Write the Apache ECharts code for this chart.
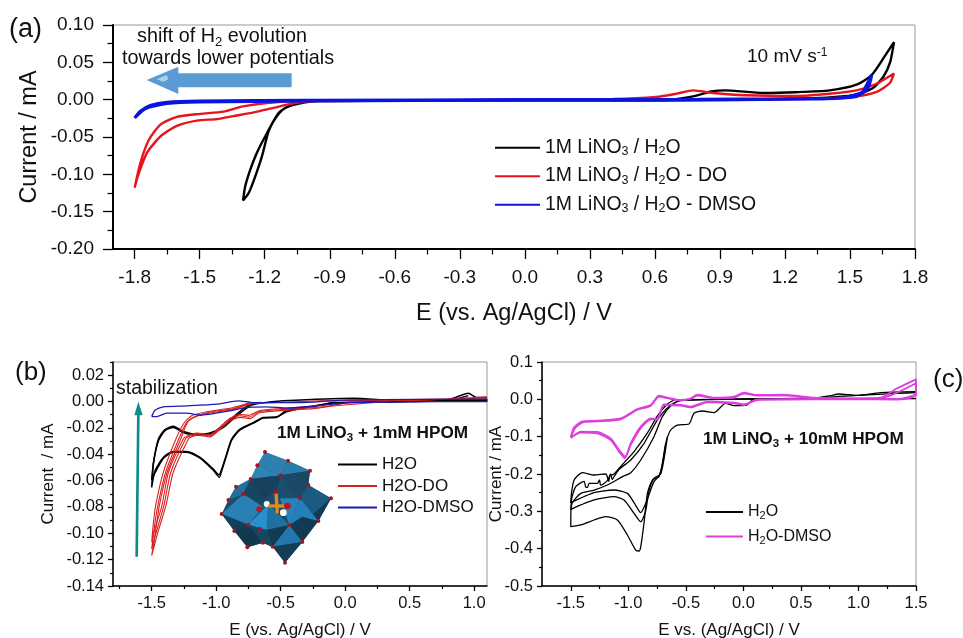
<!DOCTYPE html>
<html><head><meta charset="utf-8">
<style>html,body{margin:0;padding:0;background:#fff}#c{width:963px;height:638px}</style>
<script src="https://cdn.jsdelivr.net/npm/echarts@6/dist/echarts.min.js"></script>
</head><body><div id="c"></div>
<script>
// ---------- tick values ----------
const xMajorA=[-1.8,-1.5,-1.2,-0.9,-0.6,-0.3,0,0.3,0.6,0.9,1.2,1.5,1.8];
const xMinorA=[-1.65,-1.35,-1.05,-0.75,-0.45,-0.15,0.15,0.45,0.75,1.05,1.35,1.65];
const yMajorA=[-0.2,-0.15,-0.1,-0.05,0,0.05,0.1];
const yMinorA=[-0.175,-0.125,-0.075,-0.025,0.025,0.075];
const xMajorB=[-1.5,-1,-0.5,0,0.5,1];
const xMinorB=[-1.75,-1.25,-0.75,-0.25,0.25,0.75];
const yMajorB=[-0.14,-0.12,-0.1,-0.08,-0.06,-0.04,-0.02,0,0.02];
const yMinorB=[-0.13,-0.11,-0.09,-0.07,-0.05,-0.03,-0.01,0.01,0.03];
const xMajorC=[-1.5,-1,-0.5,0,0.5,1,1.5];
const xMinorC=[-1.25,-0.75,-0.25,0.25,0.75,1.25];
const yMajorC=[-0.5,-0.4,-0.3,-0.2,-0.1,0,0.1];
const yMinorC=[-0.45,-0.35,-0.25,-0.15,-0.05,0.05];

// ---------- panel (a) : potential V, current mA ----------
const aBlack=[[-0.96,-0.002],[-1.03,-0.0045],[-1.082,-0.008],[-1.136,-0.018],[-1.19,-0.045],[-1.236,-0.071],[-1.267,-0.094],[-1.29,-0.116],[-1.3,-0.135],[-1.274,-0.125],[-1.244,-0.103],[-1.213,-0.076],[-1.182,-0.042],[-1.151,-0.025],[-1.113,-0.0125],[-1.067,-0.007],[-0.97,-0.002],[-0.4,-0.001],[0.2,-0.001],[0.63,-0.001],[0.776,0.0045],[0.86,0.011],[0.922,0.0125],[1.1,0.009],[1.25,0.01],[1.406,0.0125],[1.53,0.02],[1.6,0.033],[1.66,0.058],[1.703,0.077],[1.686,0.051],[1.655,0.031],[1.606,0.0156],[1.53,0.0067],[1.33,0.002],[0.87,0],[0.2,-0.001],[-0.4,-0.001],[-0.96,-0.002]];
const aRed=[[-1.8,-0.118],[-1.774,-0.085],[-1.735,-0.054],[-1.68,-0.033],[-1.605,-0.023],[-1.497,-0.019],[-1.39,-0.016],[-1.3,-0.009],[-1.19,-0.0045],[-1.036,-0.002],[-0.5,-0.001],[0.41,0.001],[0.607,0.0036],[0.7,0.008],[0.776,0.0125],[0.868,0.009],[1.02,0.006],[1.25,0.005],[1.406,0.008],[1.53,0.0125],[1.62,0.021],[1.703,0.035],[1.683,0.022],[1.62,0.01],[1.53,0.0045],[1.33,0.001],[0.71,-0.001],[0,-0.001],[-0.96,-0.002],[-1.067,-0.005],[-1.16,-0.011],[-1.25,-0.017],[-1.344,-0.022],[-1.42,-0.026],[-1.513,-0.028],[-1.605,-0.035],[-1.68,-0.049],[-1.743,-0.071],[-1.786,-0.103],[-1.8,-0.118]];
const aBlue=[[-1.8,-0.0245],[-1.774,-0.0156],[-1.728,-0.008],[-1.65,-0.0036],[-1.5,-0.002],[-1,-0.001],[0,0],[0.8,0.0005],[1.2,0.001],[1.45,0.002],[1.53,0.007],[1.56,0.011],[1.6,0.033],[1.583,0.0156],[1.53,0.0045],[1.33,0.001],[0.6,-0.0005],[-0.5,-0.001],[-1.5,-0.003],[-1.65,-0.005],[-1.75,-0.012],[-1.8,-0.0245]];

// ---------- panel (b) ----------
const bBlack1=[[1.1,0.0005],[0.81,0.0005],[0.425,0],[-0.09,-0.0008],[-0.22,-0.0033],[-0.45,-0.0066],[-0.53,-0.0116],[-0.634,-0.0121],[-0.71,-0.0159],[-0.815,-0.021],[-0.88,-0.0285],[-0.919,-0.0399],[-0.957,-0.0513],[-0.978,-0.0556],[-1.022,-0.0513],[-1.125,-0.0424],[-1.229,-0.0379],[-1.332,-0.0379],[-1.41,-0.0424],[-1.474,-0.0525],[-1.5,-0.0652],[-1.487,-0.0475],[-1.448,-0.0298],[-1.397,-0.0222],[-1.332,-0.0197],[-1.255,-0.0235],[-1.151,-0.0255],[-1.048,-0.0247],[-0.944,-0.0197],[-0.841,-0.0109],[-0.738,-0.0033],[-0.66,-0.0013],[-0.48,0.0005],[0.063,0.0025],[0.425,0.0005],[0.813,0.0018],[0.955,0.0063],[1.019,0.003],[1.1,0.003]];
const bBlack2=[[0.955,0.0045],[0.813,0.001],[0.425,-0.0002],[-0.09,-0.0012],[-0.45,-0.0075],[-0.53,-0.012],[-0.634,-0.0126],[-0.71,-0.0163],[-0.815,-0.0216],[-0.88,-0.0293],[-0.919,-0.0407],[-0.957,-0.0525],[-0.975,-0.0575],[-1.022,-0.0522],[-1.125,-0.043],[-1.229,-0.0384],[-1.332,-0.0385],[-1.41,-0.0432],[-1.474,-0.054],[-1.5,-0.0595],[-1.485,-0.0455],[-1.448,-0.0285],[-1.397,-0.0212],[-1.332,-0.0187],[-1.255,-0.0228],[-1.151,-0.0248],[-1.048,-0.0238],[-0.944,-0.0186],[-0.841,-0.0095],[-0.738,-0.0022],[-0.66,-0.0008]];
const bRed1=[[1.1,0.0035],[0.6,0.001],[0.1,0.0003],[-0.208,-0.005],[-0.45,-0.0066],[-0.66,-0.0083],[-0.738,-0.013],[-0.815,-0.012],[-0.893,-0.0146],[-0.97,-0.021],[-1.048,-0.0268],[-1.151,-0.0255],[-1.2,-0.0272],[-1.216,-0.0284],[-1.333,-0.0537],[-1.389,-0.0788],[-1.45,-0.0985],[-1.5,-0.117],[-1.47,-0.0985],[-1.44,-0.0788],[-1.38,-0.0537],[-1.275,-0.0284],[-1.22,-0.0155],[-1.16,-0.0115],[-1.06,-0.0088],[-0.854,-0.0058],[-0.738,-0.0018],[-0.609,-0.001],[-0.2,0.0005],[0.2,0.001],[1.1,0.0025]];
const bRed2=[[0.35,0.0003],[-0.19,-0.0042],[-0.45,-0.0058],[-0.66,-0.0076],[-0.745,-0.0118],[-0.815,-0.0108],[-0.893,-0.0135],[-0.97,-0.02],[-1.048,-0.026],[-1.151,-0.0248],[-1.215,-0.0268],[-1.238,-0.0284],[-1.352,-0.0537],[-1.405,-0.0788],[-1.46,-0.0975],[-1.5,-0.112],[-1.478,-0.0945],[-1.452,-0.0788],[-1.392,-0.0537],[-1.29,-0.0284],[-1.23,-0.016],[-1.172,-0.0118],[-1.06,-0.0083],[-0.854,-0.0052],[-0.738,-0.001]];
const bRed3=[[-0.17,-0.003],[-0.45,-0.005],[-0.66,-0.0068],[-0.75,-0.0105],[-0.815,-0.0098],[-0.893,-0.0127],[-0.97,-0.0192],[-1.048,-0.0252],[-1.151,-0.024],[-1.225,-0.0262],[-1.255,-0.0284],[-1.37,-0.0537],[-1.42,-0.0788],[-1.47,-0.095],[-1.5,-0.1066],[-1.487,-0.0925],[-1.469,-0.0788],[-1.41,-0.0537],[-1.312,-0.0284],[-1.25,-0.0165],[-1.19,-0.0108],[-1.074,-0.0078],[-0.867,-0.0045],[-0.75,-0.0012]];
const bBlue=[[-1.5,-0.0114],[-1.474,-0.0066],[-1.41,-0.004],[-1.229,-0.0033],[-0.996,-0.002],[-0.828,0.0005],[-0.712,-0.0008],[-0.35,-0.0008],[0.037,0.0013],[1.1,0.0018],[1.1,0],[0.425,-0.0002],[0.037,-0.0008],[-0.221,-0.0033],[-0.453,-0.005],[-0.609,-0.004],[-0.764,-0.0045],[-0.893,-0.0071],[-1.125,-0.0104],[-1.229,-0.0088],[-1.384,-0.0088],[-1.461,-0.0114],[-1.5,-0.0114]];

// ---------- panel (c) ----------
const cBlack1=[[1.5,0.0018],[1,0.0009],[0.5,0],[0.09,0],[0.03,-0.0152],[-0.08,-0.017],[-0.155,-0.0107],[-0.256,-0.0357],[-0.357,-0.0313],[-0.429,-0.0375],[-0.473,-0.0661],[-0.574,-0.0688],[-0.632,-0.0821],[-0.675,-0.1179],[-0.704,-0.1714],[-0.733,-0.2071],[-0.791,-0.2161],[-0.834,-0.2518],[-0.863,-0.33],[-0.892,-0.395],[-0.907,-0.4063],[-0.936,-0.4036],[-1.008,-0.3634],[-1.095,-0.3232],[-1.196,-0.3143],[-1.297,-0.3232],[-1.413,-0.3366],[-1.5,-0.3411],[-1.494,-0.2696],[-1.457,-0.2339],[-1.384,-0.2196],[-1.37,-0.2357],[-1.355,-0.2357],[-1.34,-0.225],[-1.269,-0.225],[-1.25,-0.216],[-1.24,-0.23],[-1.182,-0.2179],[-1.153,-0.2],[-1.14,-0.215],[-1.124,-0.2071],[-1.08,-0.1875],[-0.979,-0.1625],[-0.863,-0.1179],[-0.748,-0.0554],[-0.632,-0.0152],[-0.545,-0.0036],[0.034,0.0009],[0.612,0.0027],[0.757,0.0098],[0.829,0.0143],[0.988,0.0107],[1.191,0.0179],[1.5,0.0205]];
const cBlack2=[[-0.66,-0.1],[-0.69,-0.16],[-0.719,-0.2],[-0.777,-0.2116],[-0.82,-0.245],[-0.85,-0.3],[-0.892,-0.3277],[-0.95,-0.3054],[-1.037,-0.2696],[-1.124,-0.2607],[-1.297,-0.2696],[-1.5,-0.2946],[-1.486,-0.2768],[-1.413,-0.2518],[-1.297,-0.2429],[-1.182,-0.2295],[-1.05,-0.2071],[-0.979,-0.1964],[-0.892,-0.1625],[-0.777,-0.1],[-0.704,-0.0464],[-0.632,-0.0179],[-0.545,-0.002],[0,0.0009],[0.6,0.004],[1,0.0107],[1.336,0.0161],[1.5,0.0179]];
const cBlack3=[[-0.675,-0.12],[-0.704,-0.175],[-0.733,-0.205],[-0.777,-0.2205],[-0.82,-0.255],[-0.85,-0.28],[-0.892,-0.3036],[-0.95,-0.2768],[-1.008,-0.2518],[-1.124,-0.2429],[-1.297,-0.25],[-1.5,-0.2768],[-1.494,-0.2518],[-1.471,-0.2161],[-1.399,-0.1964],[-1.297,-0.2027],[-1.196,-0.2],[-1.17,-0.22],[-1.16,-0.205],[-1.124,-0.2],[-1.066,-0.1795],[-0.95,-0.14],[-0.834,-0.09],[-0.748,-0.045],[-0.661,-0.0125],[-0.6,-0.0018]];
const cMagenta1=[[-1.5,-0.1018],[-1.471,-0.075],[-1.399,-0.0589],[-1.269,-0.0571],[-1.066,-0.0509],[-0.921,-0.0259],[-0.806,-0.0152],[-0.733,0.0098],[-0.661,0.0045],[-0.545,-0.0018],[-0.458,0.0027],[-0.4,0.0125],[-0.256,0.0045],[-0.082,0.0071],[0.005,0.0179],[0.12,0.0116],[0.352,0.0125],[0.612,0.0045],[0.902,0.0027],[1.191,0.0045],[1.336,0.0295],[1.5,0.0536],[1.5,0.0161],[1.336,0.0009],[0.902,0.0018],[0.265,0],[0.12,0],[0.005,-0.0152],[-0.082,-0.0107],[-0.314,-0.008],[-0.458,-0.0214],[-0.545,-0.0170],[-0.69,-0.0152],[-0.748,-0.055],[-0.806,-0.0509],[-0.892,-0.0732],[-0.979,-0.1179],[-1.031,-0.158],[-1.08,-0.1402],[-1.153,-0.1089],[-1.269,-0.0911],[-1.413,-0.0893],[-1.5,-0.1018]];
const cMagenta2=[[-1.5,-0.1036],[-1.465,-0.078],[-1.395,-0.0615],[-1.269,-0.059],[-1.066,-0.0535],[-0.921,-0.028],[-0.806,-0.0175],[-0.733,0.0075],[-0.661,0.003],[-0.545,-0.003],[-0.458,0.0009],[-0.4,0.0098],[-0.256,0.003],[-0.082,0.0045],[0.005,0.0152],[0.12,0.0098],[0.352,0.0107],[0.612,0.0036],[0.902,0.0018],[1.191,0.0027],[1.336,0.018],[1.5,0.0429],[1.5,0.0107],[1.336,-0.0009],[0.902,0.0009],[0.265,-0.0009],[0.12,-0.0018],[0.005,-0.0134],[-0.082,-0.0089],[-0.314,-0.0063],[-0.458,-0.0196],[-0.545,-0.0152],[-0.69,-0.0134],[-0.748,-0.0525],[-0.806,-0.0535],[-0.892,-0.077],[-0.979,-0.122],[-1.025,-0.1535],[-1.08,-0.136],[-1.153,-0.1045],[-1.269,-0.0875],[-1.413,-0.0865],[-1.5,-0.1036]];

// ---------- labels ----------
const legendA=['1M LiNO3 / H2O','1M LiNO3 / H2O - DO','1M LiNO3 / H2O - DMSO'];
const legendB=['H2O','H2O-DO','H2O-DMSO'];
const legendC=['H\u2082O','H\u2082O-DMSO'];

const FONT='"Liberation Sans",Arial,sans-serif';
const chart=echarts.init(document.getElementById('c'),null,{renderer:'canvas'});
const grids=[{left:113,top:25,width:802,height:224},{left:113,top:362,width:374,height:224},{left:542,top:362,width:374,height:224}];
const ranges=[{x:[-1.9,1.8],y:[-0.2,0.1]},{x:[-1.8,1.1],y:[-0.14,0.03]},{x:[-1.75,1.5],y:[-0.5,0.1]}];
const xMaj=[xMajorA,xMajorB,xMajorC],xMin=[xMinorA,xMinorB,xMinorC],yMaj=[yMajorA,yMajorB,yMajorC],yMin=[yMinorA,yMinorB,yMinorC];
const yDec=[2,2,1];
const fs=[19,16.5,16.5],nameFs=[23.5,17,17];
const xNames=['E (vs. Ag/AgCl) / V','E (vs. Ag/AgCl) / V','E vs. (Ag/AgCl) / V'];
const yNames=['Current / mA','Current  / mA','Current / mA'];
const xNameGap=[53,36,36],yNameGap=[71.5,56.5,37.5];
const lw=[2,1.5,1.5];
const tickLen=[[10,5.5],[5,3],[5,3]];
const xLabelMargin=[19,9,9],yLabelMargin=[19,9,9];
const xAxis=[],yAxis=[];
grids.forEach((g,i)=>{
  const common={gridIndex:i,type:'value',splitLine:{show:false}};
  xAxis.push({...common,min:ranges[i].x[0],max:ranges[i].x[1],position:'bottom',name:xNames[i],nameLocation:'middle',nameGap:xNameGap[i],nameMoveOverlap:false,
    nameTextStyle:{fontFamily:FONT,fontSize:nameFs[i],color:'#111'},
    axisLine:{show:true,onZero:false,lineStyle:{color:'#000',width:lw[i]}},
    axisTick:{show:true,length:tickLen[i][0],customValues:xMaj[i],lineStyle:{color:'#000',width:1.3}},
    axisLabel:{show:true,customValues:xMaj[i],margin:xLabelMargin[i],color:'#111',fontFamily:FONT,fontSize:fs[i],hideOverlap:false,formatter:v=>(+v).toFixed(1)}});
  xAxis.push({...common,min:ranges[i].x[0],max:ranges[i].x[1],position:'bottom',
    axisLine:{show:false,onZero:false},axisLabel:{show:false},
    axisTick:{show:true,length:tickLen[i][1],customValues:xMin[i],lineStyle:{color:'#000',width:1.2}}});
  yAxis.push({...common,min:ranges[i].y[0],max:ranges[i].y[1],position:'left',name:yNames[i],nameLocation:'middle',nameGap:yNameGap[i],nameMoveOverlap:false,
    nameTextStyle:{fontFamily:FONT,fontSize:nameFs[i],color:'#111'},
    axisLine:{show:true,onZero:false,lineStyle:{color:'#000',width:lw[i]}},
    axisTick:{show:true,length:tickLen[i][0],customValues:yMaj[i],lineStyle:{color:'#000',width:1.3}},
    axisLabel:{show:true,customValues:yMaj[i],margin:yLabelMargin[i],color:'#111',fontFamily:FONT,fontSize:fs[i],hideOverlap:false,formatter:v=>(+v).toFixed(yDec[i])}});
  yAxis.push({...common,min:ranges[i].y[0],max:ranges[i].y[1],position:'left',
    axisLine:{show:false,onZero:false},axisLabel:{show:false},
    axisTick:{show:true,length:tickLen[i][1],customValues:yMin[i],lineStyle:{color:'#000',width:1.2}}});
});
const mk=(name,data,panel,color,width)=>({type:'line',name,data,xAxisIndex:panel*2,yAxisIndex:panel*2,smooth:0.22,symbol:'none',showSymbol:false,clip:true,animation:false,silent:true,lineStyle:{color,width},itemStyle:{color}});
const series=[
 mk(legendA[0],aBlack,0,'#000',2.4),mk(legendA[1],aRed,0,'#e8141c',2.4),mk(legendA[2],aBlue,0,'#0a14e0',3.2),
 mk(legendB[0],bBlack1,1,'#000',1.5),mk(legendB[0],bBlack2,1,'#000',1.5),
 mk(legendB[1],bRed1,1,'#d9201e',1.1),mk(legendB[1],bRed2,1,'#d9201e',1.1),mk(legendB[1],bRed3,1,'#d9201e',1.1),
 mk(legendB[2],bBlue,1,'#1a1ab8',1.3),
 mk(legendC[0],cBlack1,2,'#000',1.3),mk(legendC[0],cBlack2,2,'#000',1.3),mk(legendC[0],cBlack3,2,'#000',1.3),
 mk(legendC[1],cMagenta1,2,'#dc3fdc',1.8),mk(legendC[1],cMagenta2,2,'#dc3fdc',1.8)
];
const sub=t=>t.replace(/(LiNO|H)([0-9\u2082])/g,(m,a,b)=>a+'{s|'+(b==='\u2082'?'2':b)+'}');
const legend=[
 {data:legendA,left:494,top:138,padding:0,orient:'vertical',itemWidth:45,itemHeight:1.5,itemGap:8,selectedMode:false,formatter:sub,
  textStyle:{fontFamily:FONT,fontSize:19.4,color:'#111',height:18.5,lineHeight:18,rich:{s:{fontSize:12.5,padding:[9,0,0,0],fontFamily:FONT,color:'#111'}}}},
 {data:legendB,left:337,top:456,padding:0,orient:'vertical',itemWidth:39,itemHeight:1.5,itemGap:4.5,selectedMode:false,
  textStyle:{fontFamily:FONT,fontSize:17,color:'#111',height:15.5,lineHeight:15.5}},
 {data:legendC,left:705,top:504,padding:0,orient:'vertical',itemWidth:37,itemHeight:1.5,itemGap:7,selectedMode:false,formatter:sub,
  textStyle:{fontFamily:FONT,fontSize:16,color:'#111',height:16,lineHeight:16,rich:{s:{fontSize:11,padding:[8,0,0,0],fontFamily:FONT,color:'#111'}}}}
];
const T=(x,y,text,fontSize,opt={})=>({type:'text',z:50,x,y,style:{text,x:0,y:0,fontFamily:FONT,fontSize,fill:'#111',align:opt.align||'left',verticalAlign:'middle',fontWeight:opt.bold?'bold':'normal',rich:opt.rich}});
const subRich=(sz,pad,bold)=>({s:{fontSize:sz,padding:[pad,0,0,0],fontFamily:FONT,fill:'#111',fontWeight:bold?'bold':'normal'},u:{fontSize:sz,padding:[0,0,pad,0],fontFamily:FONT,fill:'#111'}});

// decoration: the polyoxometalate cluster (zoomed-up drawing coordinates)
const hull=[[795,306],[864,332],[930,362],[925,405],[993,445],[955,513],[907,576],[855,638],[818,590],[788,578],[742,592],[703,543],[665,492],[685,450],[708,410],[752,387],[772,346]];
const faces=[
 ['#1f6f9f',[[708,410],[752,387],[730,432],[685,450]]],
 ['#2a80b5',[[730,432],[665,492],[745,524],[790,470]]],
 ['#17465f',[[730,432],[752,387],[800,440],[790,470]]],
 ['#153e58',[[665,492],[745,524],[703,543]]],
 ['#12384f',[[703,543],[745,524],[790,578],[742,592]]],
 ['#2e80b0',[[795,306],[864,332],[842,376],[772,346]]],
 ['#2a7cac',[[864,332],[930,362],[842,376]]],
 ['#2f84b5',[[772,346],[842,376],[752,387]]],
 ['#17415e',[[752,387],[842,376],[830,420],[790,450]]],
 ['#1a4865',[[842,376],[930,362],[925,405],[895,445]]],
 ['#1d5a82',[[925,405],[993,445],[955,513],[900,445]]],
 ['#123a52',[[993,445],[955,513],[930,500]]],
 ['#2380bb',[[900,445],[868,525],[955,513]]],
 ['#2a82b8',[[840,445],[900,445],[868,525]]],
 ['#2890cc',[[805,462],[745,524],[800,540]]],
 ['#1f6f9f',[[805,462],[868,525],[800,540]]],
 ['#17465f',[[745,524],[800,540],[815,590],[788,578]]],
 ['#123a52',[[800,540],[868,525],[907,500],[955,513],[907,576],[818,590]]],
 ['#2278ac',[[818,590],[868,525],[907,576]]],
 ['#143e58',[[818,590],[907,576],[855,638]]]
];
const dots=[[795,306],[864,332],[930,362],[772,346],[842,376],[752,387],[925,405],[993,445],[708,410],[730,432],[685,450],[665,492],[900,445],[955,513],[868,525],[745,524],[703,543],[780,537],[818,590],[742,592],[788,578],[907,576],[855,638]];
const cluster={type:'group',z:40,x:0,y:350,scaleX:1/3,scaleY:1/3,children:[
 {type:'polygon',shape:{points:hull},style:{fill:'#1a4d6e'}},
 ...faces.map(f=>({type:'polygon',shape:{points:f[1]},style:{fill:f[0]}})),
 {type:'circle',shape:{cx:800,cy:462,r:9},style:{fill:'#fff'}},
 {type:'circle',shape:{cx:850,cy:488,r:10},style:{fill:'#fff'}},
 {type:'line',shape:{x1:828,y1:425,x2:832,y2:490},style:{stroke:'#e08a1c',lineWidth:10}},
 {type:'line',shape:{x1:805,y1:468,x2:862,y2:468},style:{stroke:'#e08a1c',lineWidth:10}},
 ...dots.map(d=>({type:'circle',shape:{cx:d[0],cy:d[1],r:6},style:{fill:'#a8141c'}})),
 {type:'circle',shape:{cx:778,cy:478,r:9},style:{fill:'#c0141c'}},
 {type:'circle',shape:{cx:862,cy:468,r:10},style:{fill:'#c0141c'}},
 {type:'circle',shape:{cx:828,cy:425,r:7},style:{fill:'#a8141c'}}
]};
const graphic=[
 T(9,30,'(a)',27),T(15,373,'(b)',26),T(933,380,'(c)',26),
 T(222,37,'shift of H{s|2} evolution',19.8,{align:'center',rich:subRich(13,10)}),
 T(228,59,'towards lower potentials',19.8,{align:'center'}),
 T(747,57,'10 mV s{u|-1}',19,{rich:subRich(12,9)}),
 T(116,389,'stabilization',19.5),
 T(277,433,'1M LiNO{s|3} + 1mM HPOM',17.2,{bold:true,rich:subRich(11.5,9,true)}),
 T(703,439,'1M LiNO{s|3} + 10mM HPOM',17.2,{bold:true,rich:subRich(11.5,9,true)}),
 {type:'group',z:30,x:0,y:0,scaleX:1/3,scaleY:1/3,children:[
  {type:'polygon',shape:{points:[[440,240],[535,200],[535,220],[875,220],[875,262],[535,262],[535,282]]},style:{fill:'#5b9bd5'}},
  {type:'polygon',shape:{points:[[470,238],[500,225],[505,238],[490,245]]},style:{fill:'#a9d2f0'}}
 ]},
 {type:'group',z:30,x:0,y:350,scaleX:1/3,scaleY:1/3,children:[
  {type:'polygon',shape:{points:[[406,620],[414,620],[419,195],[411,195]]},style:{fill:'#0f8a85'}},
  {type:'polygon',shape:{points:[[415,155],[403,196],[428,196]]},style:{fill:'#0f8a85'}}
 ]},
 cluster
];
chart.setOption({animation:false,backgroundColor:'#fff',
 grid:grids.map(g=>({...g,outerBoundsMode:'none',show:true,borderColor:'#999',borderWidth:1,backgroundColor:'transparent'})),
 xAxis,yAxis,legend,series,graphic});
</script></body></html>
